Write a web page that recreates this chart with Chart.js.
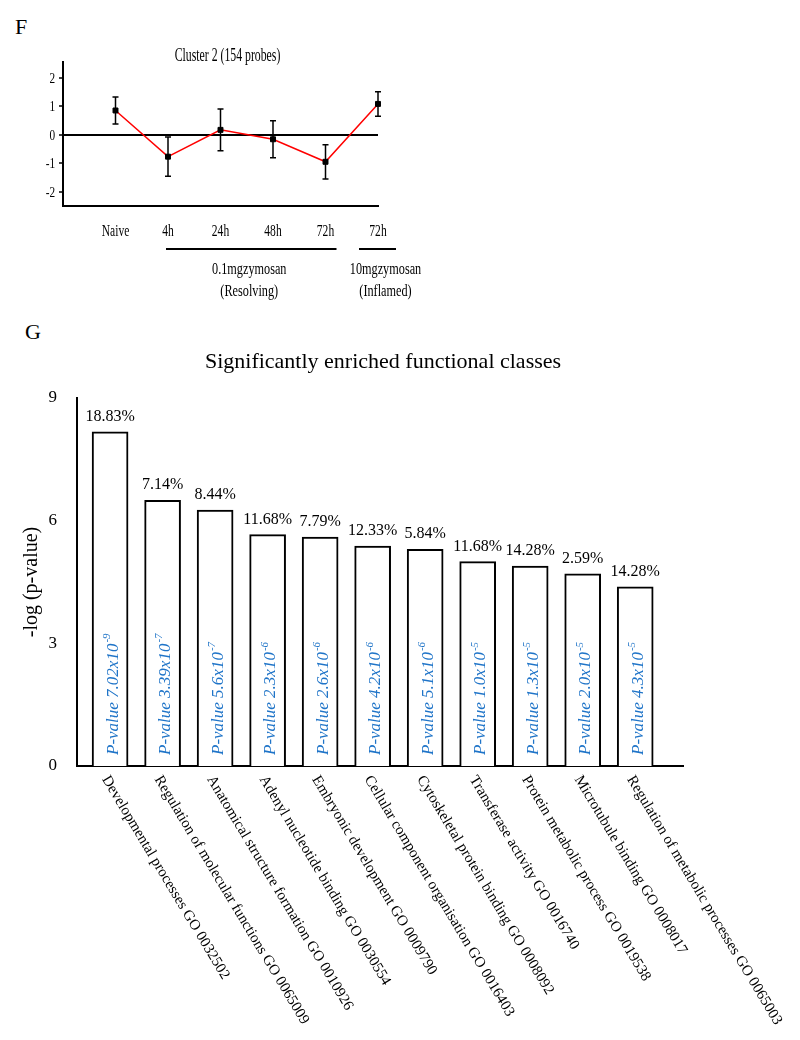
<!DOCTYPE html>
<html>
<head>
<meta charset="utf-8">
<script src="https://cdn.jsdelivr.net/npm/chart.js@4.4.1/dist/chart.umd.min.js"></script>
<style>
  body { margin: 0; background: #fff; width: 800px; height: 1040px; position: relative; font-family: "Liberation Serif", "Times New Roman", serif; }
  .panel { position: absolute; font-size: 22px; line-height: 22px; color: #000; }
  #clusterChart { position: absolute; left: 0; top: 0; }
  #goChart { position: absolute; left: 0; top: 320px; }
</style>
</head>
<body>
<div class="panel" style="left:15px;top:16px">F</div>
<div class="panel" style="left:25px;top:321px">G</div>
<canvas id="clusterChart" width="800" height="320"></canvas>
<canvas id="goChart" width="800" height="720"></canvas>
<script>
// Panel F data
var timeLabels = ['Naive', '4h', '24h', '48h', '72h', '72h'];
var timePos = [1, 2, 3, 4, 5, 6];
var clusterMean = [0.85, -0.77, 0.17, -0.16, -0.95, 1.08];
var clusterErr = [0.47, 0.69, 0.73, 0.65, 0.60, 0.43];
var groupNames = ['0.1mgzymosan', '10mgzymosan'];
var groupSubs = ['(Resolving)', '(Inflamed)'];
var groupFrom = [2, 6];
var groupTo = [5, 6];

// Panel G data
var goClasses = [
    'Developmental processes GO 0032502',
    'Regulation of molecular functions GO 0065009',
    'Anatomical structure formation GO 0010926',
    'Adenyl nucleotide binding GO 0030554',
    'Embryonic development GO 0009790',
    'Cellular component organisation GO 0016403',
    'Cytoskeletal protein binding GO 0008092',
    'Transferase activity GO 0016740',
    'Protein metabolic process GO 0019538',
    'Microtubule binding GO 0008017',
    'Regulation of metabolic processes GO 0065003'
];
var negLogP = [8.17, 6.50, 6.26, 5.66, 5.60, 5.38, 5.30, 5.00, 4.89, 4.70, 4.38];
var pctGenes = ['18.83%', '7.14%', '8.44%', '11.68%', '7.79%', '12.33%', '5.84%', '11.68%', '14.28%', '2.59%', '14.28%'];
var pMantissa = ['7.02', '3.39', '5.6', '2.3', '2.6', '4.2', '5.1', '1.0', '1.3', '2.0', '4.3'];
var pExponent = ['-9', '-7', '-7', '-6', '-6', '-6', '-6', '-5', '-5', '-5', '-5'];

var serif = '"Liberation Serif", "Times New Roman", serif';
var pBlue = '#1f74c8';

// panel F text is tall and narrow in the original, so squeeze it sideways
function narrowText(ctx, text, x, y, size, sx, align) {
    ctx.save();
    ctx.translate(x, y);
    ctx.scale(sx, 1);
    ctx.font = size + 'px ' + serif;
    ctx.textAlign = align;
    ctx.textBaseline = 'middle';
    ctx.fillText(text, 0, 0);
    ctx.restore();
}

// error bars, tick labels, title and group brackets for panel F
var clusterExtras = {
    id: 'clusterExtras',
    afterDatasetsDraw: function (chart) {
        var ctx = chart.ctx, xs = chart.scales.x, ys = chart.scales.y;
        ctx.save();
        ctx.strokeStyle = '#000';
        ctx.lineWidth = 1.5;
        for (var i = 0; i < timePos.length; i++) {
            var x = xs.getPixelForValue(timePos[i]);
            var yt = ys.getPixelForValue(clusterMean[i] + clusterErr[i]);
            var yb = ys.getPixelForValue(clusterMean[i] - clusterErr[i]);
            ctx.beginPath();
            ctx.moveTo(x, yt); ctx.lineTo(x, yb);
            ctx.moveTo(x - 3, yt); ctx.lineTo(x + 3, yt);
            ctx.moveTo(x - 3, yb); ctx.lineTo(x + 3, yb);
            ctx.stroke();
        }
        ctx.restore();
    },
    afterDraw: function (chart) {
        var ctx = chart.ctx, xs = chart.scales.x, ys = chart.scales.y, area = chart.chartArea;
        ctx.save();
        ctx.fillStyle = '#000';

        ys.ticks.forEach(function (t) {
            narrowText(ctx, String(t.value), ys.right - 8, ys.getPixelForValue(t.value) + 1, 15, 0.75, 'right');
        });
        for (var i = 0; i < timeLabels.length; i++) {
            narrowText(ctx, timeLabels[i], xs.getPixelForValue(timePos[i]), area.bottom + 26, 17, 0.68, 'center');
        }

        narrowText(ctx, 'Cluster 2 (154 probes)', (area.left + area.right) / 2 + 7, area.top - 6, 19, 0.62, 'center');

        // group brackets under the time labels
        var padL = [2, 19], padR = [11, 18], shift = [-2, 8];
        ctx.strokeStyle = '#000';
        ctx.lineWidth = 2;
        for (var g = 0; g < groupNames.length; g++) {
            var x0 = xs.getPixelForValue(groupFrom[g]) - padL[g];
            var x1 = xs.getPixelForValue(groupTo[g]) + padR[g];
            ctx.beginPath();
            ctx.moveTo(x0, area.bottom + 43); ctx.lineTo(x1, area.bottom + 43);
            ctx.stroke();
            var cx = (x0 + x1) / 2 + shift[g];
            narrowText(ctx, groupNames[g], cx, area.bottom + 64, 17, 0.72, 'center');
            narrowText(ctx, groupSubs[g], cx, area.bottom + 86, 17, 0.72, 'center');
        }
        ctx.restore();
    }
};

new Chart(document.getElementById('clusterChart'), {
    type: 'line',
    data: {
        datasets: [{
            data: timePos.map(function (x, i) { return { x: x, y: clusterMean[i] }; }),
            borderColor: '#ff0000',
            borderWidth: 1.5,
            tension: 0,
            clip: false,
            pointStyle: 'rect',
            pointRadius: 3.5,
            pointBackgroundColor: '#000',
            pointBorderColor: '#000',
            pointBorderWidth: 1
        }]
    },
    options: {
        responsive: false,
        animation: false,
        layout: { padding: { left: 0, right: 422, top: 62, bottom: 0 } },
        plugins: { legend: { display: false }, tooltip: { enabled: false } },
        scales: {
            x: {
                type: 'linear',
                min: 0,
                max: 6,
                afterFit: function (s) { s.height = 114; },
                ticks: { display: false, stepSize: 1 },
                grid: { display: false },
                border: { color: '#000', width: 2 }
            },
            y: {
                min: -2.5,
                max: 2.55,
                afterFit: function (s) { s.width = 63; },
                ticks: { display: false, stepSize: 1, includeBounds: false },
                grid: {
                    drawOnChartArea: true,
                    color: function (c) { return c.tick && c.tick.value === 0 ? '#000' : 'rgba(0,0,0,0)'; },
                    lineWidth: 2,
                    tickColor: '#000',
                    tickLength: 4,
                    tickWidth: 1.5
                },
                border: { color: '#000', width: 2 }
            }
        }
    },
    plugins: [clusterExtras]
});

// labels on and around the bars of panel G
var goExtras = {
    id: 'goExtras',
    afterDatasetsDraw: function (chart) {
        var ctx = chart.ctx, meta = chart.getDatasetMeta(0);
        var y0 = chart.scales.y.getPixelForValue(0);
        ctx.save();
        for (var i = 0; i < meta.data.length; i++) {
            var bar = meta.data[i];
            ctx.fillStyle = '#000';
            ctx.font = '16px ' + serif;
            ctx.textAlign = 'center';
            ctx.textBaseline = 'middle';
            ctx.fillText(pctGenes[i], bar.x, bar.y - 15);

            ctx.save();
            ctx.translate(bar.x + 3, y0 - 11);
            ctx.rotate(-Math.PI / 2);
            ctx.fillStyle = pBlue;
            ctx.textAlign = 'left';
            ctx.font = 'italic 17px ' + serif;
            var main = 'P-value ' + pMantissa[i] + 'x10';
            ctx.fillText(main, 0, 0);
            var w = ctx.measureText(main).width;
            ctx.font = 'italic 11px ' + serif;
            ctx.fillText(pExponent[i], w + 1, -6);
            ctx.restore();
        }
        ctx.restore();
    },
    afterDraw: function (chart) {
        var ctx = chart.ctx, xs = chart.scales.x;
        var y0 = chart.scales.y.getPixelForValue(0);
        ctx.save();
        ctx.fillStyle = '#000';
        ctx.font = '15px ' + serif;
        ctx.textAlign = 'left';
        ctx.textBaseline = 'middle';
        for (var i = 0; i < goClasses.length; i++) {
            ctx.save();
            ctx.translate(xs.getPixelForValue(i) - 5, y0 + 11);
            ctx.rotate(59 * Math.PI / 180);
            ctx.fillText(goClasses[i], 0, 0);
            ctx.restore();
        }
        ctx.font = '22px ' + serif;
        ctx.textAlign = 'center';
        ctx.fillText('Significantly enriched functional classes', 383, 42);
        ctx.restore();
    }
};

new Chart(document.getElementById('goChart'), {
    type: 'bar',
    data: {
        datasets: [{
            data: negLogP.map(function (v, i) { return { x: i, y: v }; }),
            backgroundColor: '#fff',
            borderColor: '#000',
            borderWidth: 2,
            barThickness: 36
        }]
    },
    options: {
        responsive: false,
        animation: false,
        layout: { padding: { left: 0, right: 117, top: 78, bottom: 0 } },
        plugins: { legend: { display: false }, tooltip: { enabled: false } },
        scales: {
            x: {
                type: 'linear',
                offset: false,
                min: -0.63,
                max: 10.91,
                afterFit: function (s) { s.height = 274; },
                ticks: { display: false },
                grid: { display: false },
                border: { color: '#000', width: 2 }
            },
            y: {
                min: 0,
                max: 9,
                afterFit: function (s) { s.width = 77; },
                ticks: { stepSize: 3, padding: 12, color: '#000', font: { family: serif, size: 17 } },
                grid: { display: false },
                border: { color: '#000', width: 2 },
                title: {
                    display: true,
                    text: '-log (p-value)',
                    color: '#000',
                    font: { family: serif, size: 20 },
                    padding: { top: 20, bottom: 0 }
                }
            }
        }
    },
    plugins: [goExtras]
});
</script>
</body>
</html>
